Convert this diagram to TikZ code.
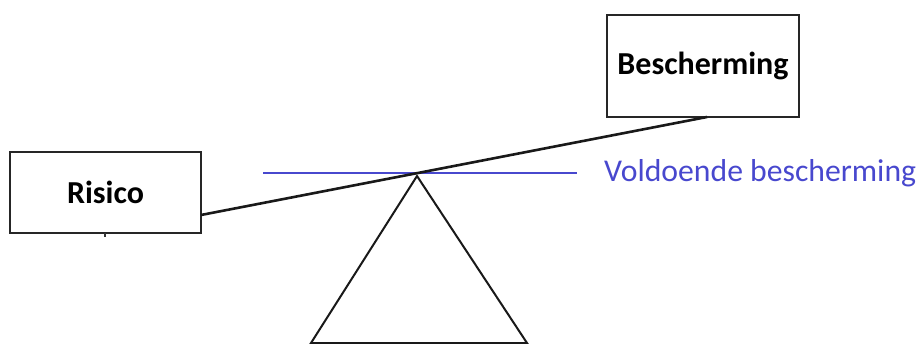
\documentclass[tikz,border=0pt]{standalone}
\usepackage{fontspec}
\setmainfont{Carlito}
\definecolor{lineblue}{RGB}{72,72,206}
\tikzset{
  box/.style={draw=black!85, line width=2pt, inner sep=0pt, font=\fontsize{32}{38}\selectfont\bfseries},
  beam/.style={draw=black!90, line width=2.6pt},
  fulcrum/.style={draw=black!90, line width=2pt, line join=miter},
  level/.style={draw=lineblue, line width=1.3pt},
  leveltext/.style={text=lineblue, font=\fontsize{31.7}{38}\selectfont, inner sep=0pt, anchor=west}
}
\begin{document}
\begin{tikzpicture}[x=1pt,y=-1pt]
\useasboundingbox (0,0) rectangle (920,343);
\node[box, minimum width=191pt, minimum height=81pt] (risico) at (105.5,192.5) {Risico};
\node[box, minimum width=192pt, minimum height=102pt] (bescherming) at (703,66) {Bescherming};
\coordinate (beamL) at (201,215);
\coordinate (beamR) at (707,117);
\coordinate (apex) at (417,176);
\coordinate (baseL) at (311,343);
\coordinate (baseR) at (527,343);
\coordinate (levL) at (263,173);
\coordinate (levR) at (577,173);
\coordinate (tickT) at (105,233);
\coordinate (tickB) at (105,237);
\draw[fulcrum] (baseL) -- (apex) -- (baseR) -- cycle;
\draw[level] (levL) -- (levR);
\draw[beam] (beamL) -- (beamR);
\draw[line width=2pt, black!80] (tickT) -- (tickB);
\node[leveltext] (voldoende) at (604,173) {Voldoende bescherming};
\end{tikzpicture}
\end{document}
